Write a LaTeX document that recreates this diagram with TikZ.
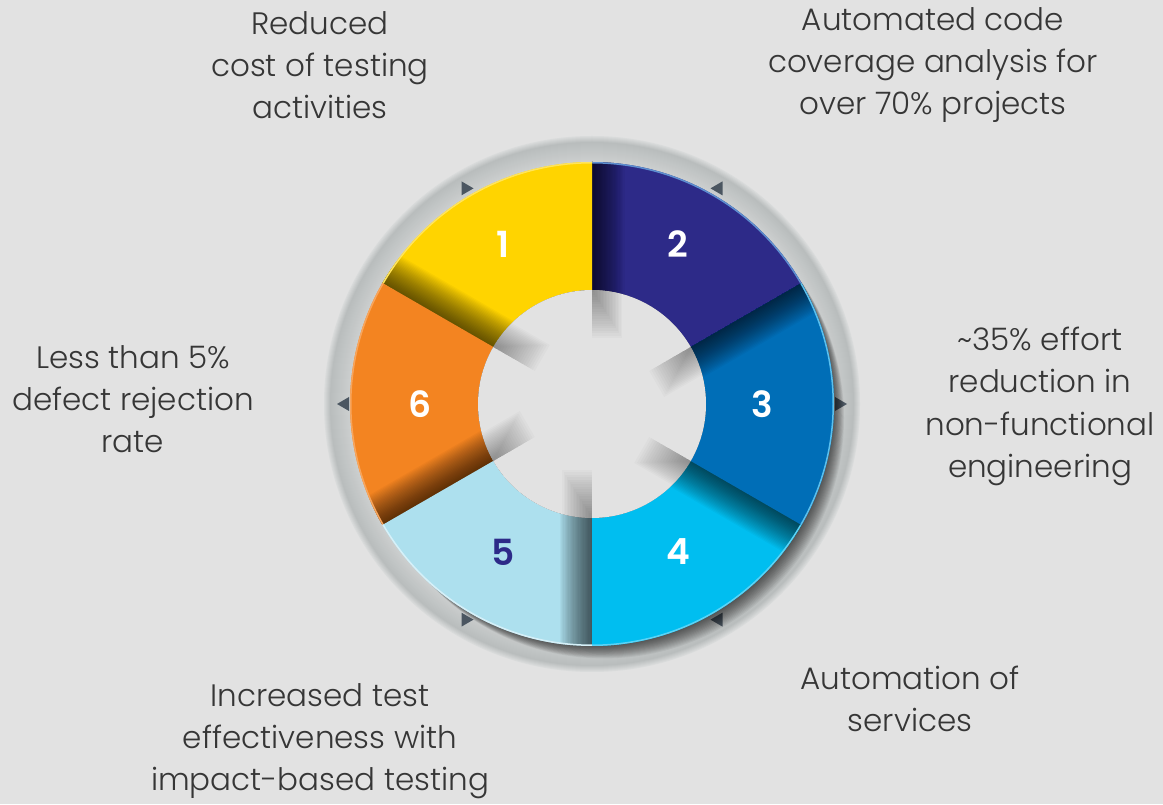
\documentclass[tikz,border=0pt]{standalone}
\usepackage{fontspec}
\setmainfont{Poppins}[UprightFont=* Light, BoldFont=* SemiBold]
\definecolor{bg}{HTML}{E2E2E2}
\definecolor{cyel}{HTML}{FFD400}
\definecolor{cnavy}{HTML}{2D2A88}
\definecolor{cblue}{HTML}{006EB7}
\definecolor{ccyan}{HTML}{00BEF0}
\definecolor{clight}{HTML}{ADE0EE}
\definecolor{corange}{HTML}{F38421}
\definecolor{ryel}{HTML}{FFE45C}
\definecolor{rnavy}{HTML}{5D8FD0}
\definecolor{rblue}{HTML}{5BC0EE}
\definecolor{rcyan}{HTML}{5CD3F6}
\definecolor{rlight}{HTML}{D6F0F8}
\definecolor{rorange}{HTML}{F8A55C}
\definecolor{txt}{HTML}{363636}
\definecolor{tri}{HTML}{4B5661}
\definecolor{ringA}{HTML}{D9DBDB}
\definecolor{ringB}{HTML}{B9BDBD}
\definecolor{ringD}{HTML}{CDD0D0}
\begin{document}
\begin{tikzpicture}[x=1pt,y=1pt,
  lbl/.style={align=center,text=txt,font=\fontsize{31}{42.3}\selectfont,inner sep=0pt},
  num/.style={text=white,font=\fontsize{36}{40}\selectfont\bfseries,inner sep=0pt},
]
\useasboundingbox (0,0) rectangle (1163,804);
\fill[bg] (0,0) rectangle (1163,804);
\begin{scope}[shift={(592,400)}]
  % silver ring, smooth bands
  \foreach \i in {0,...,6}{
    \pgfmathsetmacro\p{\i/6*100}
    \fill[ringB!\p!ringA] (0,0) circle (268-\i);
  }
  \foreach \i in {1,...,20}{
    \pgfmathsetmacro\p{\i/20*100}
    \fill[ringD!\p!ringB] (0,0) circle (262-\i);
  }
  % triangles
  \foreach \t in {120,0,-120}
    \fill[tri, shift={(\t:249)}] (-6,7) -- (-6,-7) -- (6,0) -- cycle;
  \foreach \t in {60,-60,180}
    \fill[tri, shift={(\t:249)}] (6,7) -- (6,-7) -- (-6,0) -- cycle;
  % shadow of the wheel on the ring
  \foreach \k in {1,...,16}
    \fill[black,opacity=0.055] (0.75*\k,-0.9*\k) circle (240);
  % segments
  \foreach \a/\col/\rim in {30/cnavy/rnavy,90/cyel/ryel,150/corange/rorange,210/clight/rlight,270/ccyan/rcyan,330/cblue/rblue}{
    \pgfmathsetmacro\b{\a+60}
    \begin{scope}
      \clip (\a:114) -- (\a:242) arc[start angle=\a,end angle=\b,radius=242] -- (\b:114) arc[start angle=\b,end angle=\a,radius=114] -- cycle;
      \fill[\col] (-250,-250) rectangle (250,250);
      \begin{scope}[rotate=\b]
        \foreach \k in {1,...,26}
          \fill[black,opacity=0.033] (100,0) rectangle (250,-1.25*\k);
      \end{scope}
      \draw[\rim, line width=3] (\a:242) arc[start angle=\a,end angle=\b,radius=242];
    \end{scope}
  }
  % inner hole
  \fill[bg] (0,0) circle (114);
  \begin{scope}
    \clip (0,0) circle (114);
    \foreach \b in {30,90,150,210,270,330}{
      \begin{scope}[rotate=\b]
        \foreach \k in {1,...,20}
          \fill[black,opacity=0.018] (114-2.4*\k,0) rectangle (116,-1.5*\k);
      \end{scope}
    }
  \end{scope}
\end{scope}
% numbers
\node[num] (n1) at (503,560) {1};
\node[num] (n2) at (678,560) {2};
\node[num] (n3) at (762,400) {3};
\node[num] (n4) at (678,252) {4};
\node[num,text=cnavy] (n5) at (503,252) {5};
\node[num] (n6) at (420,400) {6};
% labels
\node[lbl] (t1) at (320,739) {Reduced\\cost of testing\\activities};
\node[lbl] (t2) at (933,739) {Automated code\\coverage analysis for\\over 70\% projects};
\node[lbl] (t3) at (1040,397.5) {\textasciitilde 35\% effort\\reduction in\\non-functional\\engineering};
\node[lbl] (t6) at (133,405) {Less than 5\%\\defect rejection\\rate};
\node[lbl] (t4) at (910,105) {Automation of\\services};
\node[lbl] (t5) at (320,63) {Increased test\\effectiveness with\\impact-based testing};
\end{tikzpicture}
\end{document}
